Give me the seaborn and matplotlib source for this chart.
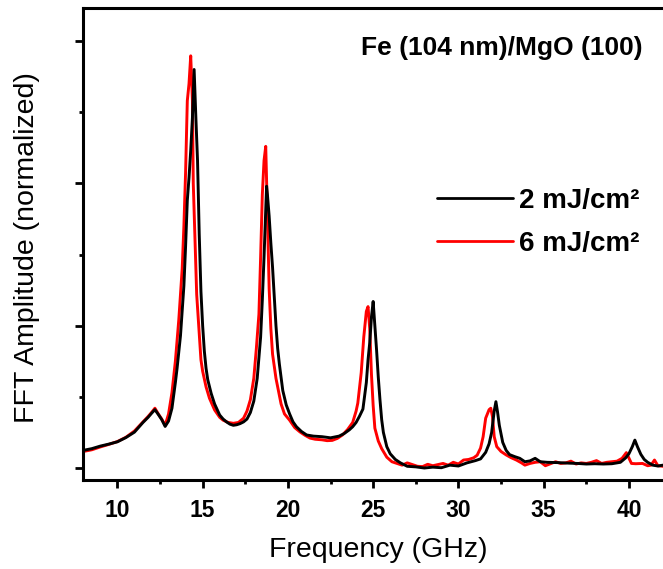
import numpy as np
import pandas as pd
import seaborn as sns
import matplotlib
matplotlib.use("Agg")
import matplotlib.pyplot as plt
from matplotlib.ticker import MultipleLocator
from matplotlib.lines import Line2D

# ---- data ----
freq_2mJ = [8.0, 8.5, 9.0, 9.5, 10.0, 10.5, 11.0, 11.5, 11.8, 12.0, 12.2, 12.4, 12.6, 12.8,
            13.0, 13.2, 13.4, 13.5, 13.7, 13.9, 14.0, 14.1, 14.2, 14.3, 14.4, 14.5, 14.6,
            14.7, 14.8, 14.9, 15.0, 15.1, 15.2, 15.3, 15.5, 15.7, 16.0, 16.2, 16.4, 16.6,
            16.8, 17.0, 17.2, 17.4, 17.6, 17.8, 18.0, 18.2, 18.4, 18.5, 18.6, 18.7, 18.75,
            18.8, 18.9, 19.0, 19.1, 19.2, 19.3, 19.4, 19.5, 19.7, 19.9, 20.1, 20.3, 20.5,
            20.8, 21.1, 21.5, 22.0, 22.5, 23.0, 23.3, 23.6, 23.8, 24.0, 24.2, 24.4, 24.6,
            24.7, 24.8, 24.9, 25.0, 25.1, 25.2, 25.3, 25.4, 25.5, 25.6, 25.8, 26.0, 26.3,
            26.6, 27.0, 27.5, 28.0, 28.5, 29.0, 29.5, 30.0, 30.5, 31.0, 31.3, 31.6, 31.8,
            31.95, 32.1, 32.2, 32.3, 32.4, 32.6, 32.8, 33.0, 33.3, 33.6, 33.9, 34.2, 34.5,
            34.8, 35.2, 35.8, 36.5, 37.0, 37.5, 38.0, 38.5, 39.0, 39.5, 39.8, 40.0, 40.2,
            40.35, 40.5, 40.7, 40.9, 41.1, 41.4, 41.7, 42.0]
amp_2mJ = [0.062, 0.068, 0.077, 0.084, 0.092, 0.107, 0.126, 0.160, 0.178, 0.192, 0.205, 0.188,
           0.170, 0.146, 0.165, 0.210, 0.300, 0.350, 0.465, 0.640, 0.780, 0.940, 1.020, 1.115,
           1.230, 1.400, 1.234, 1.080, 0.820, 0.620, 0.500, 0.410, 0.350, 0.310, 0.262, 0.225,
           0.186, 0.172, 0.162, 0.154, 0.150, 0.152, 0.156, 0.162, 0.172, 0.195, 0.235, 0.315,
           0.460, 0.590, 0.740, 0.900, 0.990, 0.960, 0.885, 0.790, 0.705, 0.600, 0.500, 0.420,
           0.365, 0.272, 0.222, 0.190, 0.162, 0.145, 0.128, 0.116, 0.112, 0.110, 0.106, 0.112,
           0.121, 0.134, 0.145, 0.160, 0.182, 0.207, 0.300, 0.380, 0.440, 0.530, 0.585, 0.500,
           0.415, 0.320, 0.240, 0.170, 0.125, 0.075, 0.050, 0.030, 0.018, 0.006, 0.004, 0.000,
           0.003, 0.001, 0.010, 0.007, 0.018, 0.026, 0.032, 0.055, 0.085, 0.125, 0.200, 0.233,
           0.195, 0.150, 0.090, 0.062, 0.047, 0.040, 0.034, 0.022, 0.025, 0.034, 0.022, 0.020,
           0.019, 0.017, 0.016, 0.014, 0.015, 0.014, 0.015, 0.020, 0.035, 0.050, 0.075, 0.098,
           0.075, 0.048, 0.030, 0.020, 0.010, 0.007, 0.010]

freq_6mJ = [8.0, 8.5, 9.0, 9.5, 10.0, 10.5, 11.0, 11.5, 11.8, 12.0, 12.2, 12.4, 12.6, 12.8,
            13.0, 13.2, 13.4, 13.6, 13.8, 13.9, 14.0, 14.1, 14.2, 14.3, 14.4, 14.45, 14.55,
            14.65, 14.75, 14.9, 15.0, 15.2, 15.4, 15.7, 16.0, 16.2, 16.5, 16.8, 17.1, 17.4,
            17.6, 17.8, 18.0, 18.15, 18.3, 18.4, 18.5, 18.6, 18.7, 18.8, 18.9, 19.0, 19.1,
            19.3, 19.6, 19.8, 20.1, 20.4, 20.7, 21.0, 21.3, 21.6, 22.0, 22.3, 22.6, 22.9,
            23.2, 23.5, 23.8, 24.0, 24.1, 24.2, 24.3, 24.45, 24.6, 24.7, 24.8, 24.9, 25.0,
            25.1, 25.3, 25.5, 25.8, 26.1, 26.4, 26.7, 27.0, 27.3, 27.6, 27.9, 28.2, 28.5,
            28.8, 29.1, 29.4, 29.7, 30.0, 30.3, 30.6, 30.9, 31.1, 31.3, 31.45, 31.6, 31.8,
            31.9, 32.0, 32.1, 32.25, 32.5, 32.8, 33.1, 33.4, 33.7, 33.9, 34.2, 34.5, 34.8,
            35.1, 35.4, 35.7, 36.0, 36.3, 36.6, 36.9, 37.2, 37.5, 37.8, 38.1, 38.4, 38.7,
            39.0, 39.3, 39.6, 39.85, 40.0, 40.15, 40.4, 40.8, 41.1, 41.3, 41.5, 41.7, 42.0]
amp_6mJ = [0.058, 0.064, 0.074, 0.083, 0.093, 0.108, 0.130, 0.162, 0.181, 0.195, 0.210, 0.190,
           0.172, 0.150, 0.190, 0.265, 0.375, 0.520, 0.700, 0.850, 1.040, 1.290, 1.350, 1.448,
           1.290, 1.000, 0.800, 0.610, 0.520, 0.380, 0.340, 0.285, 0.245, 0.204, 0.178, 0.168,
           0.160, 0.157, 0.160, 0.175, 0.200, 0.240, 0.315, 0.420, 0.540, 0.740, 0.960, 1.080,
           1.130, 0.890, 0.630, 0.490, 0.400, 0.315, 0.225, 0.190, 0.168, 0.142, 0.127, 0.115,
           0.105, 0.101, 0.099, 0.096, 0.097, 0.104, 0.116, 0.135, 0.160, 0.200, 0.228, 0.280,
           0.335, 0.460, 0.550, 0.567, 0.490, 0.330, 0.220, 0.140, 0.095, 0.068, 0.038, 0.022,
           0.016, 0.010, 0.018, 0.012, 0.006, 0.005, 0.013, 0.008, 0.012, 0.016, 0.010, 0.020,
           0.014, 0.028, 0.030, 0.036, 0.045, 0.070, 0.110, 0.175, 0.205, 0.210, 0.180, 0.110,
           0.075, 0.058, 0.046, 0.036, 0.028, 0.018, 0.010, 0.016, 0.020, 0.022, 0.008, 0.015,
           0.022, 0.016, 0.018, 0.024, 0.014, 0.018, 0.016, 0.020, 0.026, 0.016, 0.020, 0.022,
           0.024, 0.034, 0.054, 0.035, 0.016, 0.015, 0.016, 0.008, 0.010, 0.028, 0.008, 0.006]

labels = ["2 mJ/cm\u00b2", "6 mJ/cm\u00b2"]
colors = ["#000000", "#ff0000"]
x_ticks = [10, 15, 20, 25, 30, 35, 40]
annotation = "Fe (104 nm)/MgO (100)"

df = pd.concat([
    pd.DataFrame({"freq": freq_2mJ, "amp": amp_2mJ, "fluence": labels[0]}),
    pd.DataFrame({"freq": freq_6mJ, "amp": amp_6mJ, "fluence": labels[1]}),
], ignore_index=True)

# ---- style ----
sns.set_theme(style="ticks")
plt.rcParams["font.family"] = ["Liberation Sans", "DejaVu Sans"]
plt.rcParams["text.color"] = "black"
plt.rcParams["axes.labelcolor"] = "black"
plt.rcParams["xtick.color"] = "black"
plt.rcParams["ytick.color"] = "black"

W, H = 663, 569
fig = plt.figure(figsize=(W / 100, H / 100), dpi=100)
left_px, right_px, top_px, bottom_px = 83.3, 663.0, 8.3, 479.5
ax = fig.add_axes([left_px / W, 1 - bottom_px / H, (right_px - left_px) / W, (bottom_px - top_px) / H])

sns.lineplot(data=df, x="freq", y="amp", hue="fluence", palette=colors,
             hue_order=labels, estimator=None, sort=False, linewidth=2.1, ax=ax, legend=False)
for ln, z in zip(ax.get_lines(), [3, 2]):
    ln.set_zorder(z)

ax.set_xlim(8, 42)
ax.set_ylim(-0.0404, 1.615)
ax.set_xticks(x_ticks)
ax.set_xticklabels([str(t) for t in x_ticks])
ax.xaxis.set_minor_locator(MultipleLocator(2.5))
ax.yaxis.set_major_locator(MultipleLocator(0.5))
ax.yaxis.set_minor_locator(MultipleLocator(0.25))
ax.tick_params(axis="both", which="major", direction="out", length=6, width=2.0, color="black")
ax.tick_params(axis="both", which="minor", direction="out", length=3, width=2.0, color="black")
ax.tick_params(axis="y", which="both", labelleft=False)
ax.tick_params(axis="x", which="major", labelsize=16.5, pad=8, labelcolor="black")
for lab in ax.get_xticklabels():
    lab.set_fontweight("bold")

for side in ["left", "bottom", "top"]:
    ax.spines[side].set_linewidth(2.2)
    ax.spines[side].set_color("black")
ax.spines["right"].set_visible(False)

ax.set_xlabel("Frequency (GHz)", fontsize=20.5, color="black")
ax.set_ylabel("FFT Amplitude (normalized)", fontsize=20.5, color="black")
ax.xaxis.set_label_coords(0.5 + (378.5 - 373.2) / (right_px - left_px), (bottom_px - 537) / (bottom_px - top_px))
ax.yaxis.set_label_coords((40 - left_px) / (right_px - left_px), 0.5 - (247.5 - 244) / (bottom_px - top_px))

ax.text((643 - left_px) / (right_px - left_px), (bottom_px - 55) / (bottom_px - top_px), annotation,
        transform=ax.transAxes, ha="right", va="baseline", fontsize=19, fontweight="bold", color="black")

handles = [Line2D([], [], color=c, lw=2.0) for c in colors]
leg = ax.legend(handles, labels, loc="upper left",
                bbox_to_anchor=((436.7 - left_px) / (right_px - left_px), (bottom_px - 188) / (bottom_px - top_px)),
                frameon=False, borderaxespad=0, borderpad=0, handlelength=2.75, handletextpad=0.2,
                labelspacing=0.6, prop={"size": 20, "weight": "bold"})
for t in leg.get_texts():
    t.set_color("black")

fig.savefig("out.png", dpi=100)
